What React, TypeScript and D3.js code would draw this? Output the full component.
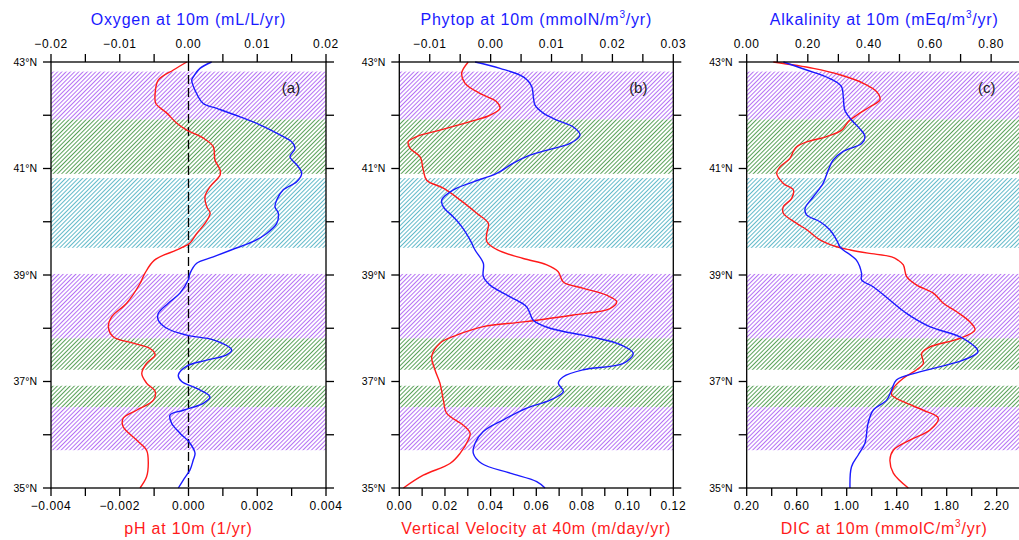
import React from 'react';
import * as d3 from 'd3';

type Pt = [number, number]; // [latitude, value]

// ---------- Data (latitude °N, value) ----------
const oxygen: Pt[] = [
  [43.0, 0.00337], [42.88, 0.00167], [42.72, 0.0007], [42.66, 0.00047], [42.47, 0.00095],
  [42.22, 0.00215], [42.13, 0.0041], [41.97, 0.00749], [41.82, 0.0104], [41.63, 0.01331],
  [41.5, 0.01501], [41.38, 0.01549], [41.22, 0.01476], [41.07, 0.01574], [40.91, 0.01647],
  [40.75, 0.01574], [40.6, 0.01379], [40.41, 0.01283], [40.28, 0.01258], [40.16, 0.01306],
  [39.97, 0.01283], [39.78, 0.01137], [39.63, 0.00943], [39.47, 0.0062], [39.34, 0.00361],
  [39.22, 0.00119], [39.03, 0.00022], [38.91, -0.00003], [38.66, -0.00124], [38.47, -0.00294],
  [38.28, -0.00439], [38.15, -0.00439], [38.0, -0.00317], [37.87, -0.00026], [37.78, 0.00361],
  [37.59, 0.00628], [37.5, 0.00556], [37.4, 0.00265], [37.29, -0.00026], [37.12, -0.00148],
  [37.0, -0.00099], [36.87, 0.00119], [36.71, 0.00313], [36.59, 0.00215], [36.46, -0.00076],
  [36.37, -0.00269], [36.21, -0.00244], [36.03, -0.00124], [35.84, 0.00022], [35.65, 0.00095],
  [35.53, 0.0007], [35.34, 0.00022], [35.15, -0.00076], [35.0, -0.00148],
];

const pH: Pt[] = [
  [43.0, -0.00005], [42.85, -0.00044], [42.66, -0.00088], [42.41, -0.00097], [42.22, -0.00095],
  [42.04, -0.00063], [41.85, -0.00034], [41.72, -0.00005], [41.57, 0.00043], [41.41, 0.00072],
  [41.16, 0.00077], [40.97, 0.00092], [40.88, 0.00092], [40.66, 0.00063], [40.47, 0.00048],
  [40.28, 0.00053], [40.16, 0.00063], [39.97, 0.00048], [39.78, 0.00024], [39.6, 0.00004],
  [39.56, -0.00005], [39.47, -0.00034], [39.28, -0.00099], [39.03, -0.00127], [38.84, -0.00141],
  [38.47, -0.0018], [38.22, -0.00223], [38.03, -0.00233], [37.84, -0.00219], [37.72, -0.00161],
  [37.62, -0.00112], [37.5, -0.00097], [37.34, -0.00122], [37.15, -0.00136], [36.97, -0.00122],
  [36.81, -0.00097], [36.65, -0.00102], [36.46, -0.00151], [36.31, -0.0019], [36.15, -0.0019],
  [35.9, -0.00151], [35.71, -0.00122], [35.46, -0.00117], [35.21, -0.00122], [35.0, -0.00141],
];

const phytop: Pt[] = [
  [43.0, -0.00256], [42.88, 0.00154], [42.72, 0.00537], [42.54, 0.00675], [42.35, 0.00701],
  [42.19, 0.00729], [42.04, 0.00865], [41.91, 0.01085], [41.78, 0.01358], [41.63, 0.01468],
  [41.47, 0.01304], [41.36, 0.00975], [41.25, 0.00647], [41.1, 0.00373], [40.91, 0.001],
  [40.75, -0.00284], [40.6, -0.00612], [40.41, -0.00803], [40.28, -0.00777], [40.09, -0.00612],
  [39.91, -0.00475], [39.66, -0.00338], [39.47, -0.00256], [39.22, -0.0012], [38.97, -0.0012],
  [38.81, -0.0001], [38.59, 0.00319], [38.4, 0.00593], [38.15, 0.00701], [38.0, 0.00975],
  [37.84, 0.01647], [37.69, 0.02135], [37.53, 0.02343], [37.34, 0.02179], [37.22, 0.01522],
  [37.09, 0.01194], [36.97, 0.01112], [36.81, 0.01194], [36.65, 0.00975], [36.5, 0.00593],
  [36.28, 0.00209], [36.06, -0.0012], [35.84, -0.00256], [35.65, -0.00284], [35.46, -0.00146],
  [35.28, 0.00319], [35.12, 0.00757], [35.0, 0.00893],
];

const vertVel: Pt[] = [
  [43.0, 0.0302], [42.79, 0.0273], [42.6, 0.0288], [42.41, 0.0353], [42.25, 0.0427],
  [42.13, 0.0441], [42.0, 0.0397], [41.88, 0.031], [41.72, 0.0178], [41.6, 0.0076],
  [41.5, 0.0039], [41.38, 0.0047], [41.22, 0.0091], [40.97, 0.0105], [40.78, 0.012],
  [40.63, 0.0193], [40.41, 0.0266], [40.16, 0.0339], [39.97, 0.039], [39.78, 0.0383],
  [39.63, 0.0383], [39.47, 0.043], [39.31, 0.0543], [39.19, 0.0646], [39.06, 0.0696],
  [38.87, 0.0718], [38.75, 0.0806], [38.62, 0.0908], [38.5, 0.0952], [38.37, 0.0923],
  [38.25, 0.0762], [38.12, 0.0543], [38.03, 0.0368], [37.87, 0.0251], [37.72, 0.0178],
  [37.47, 0.0142], [37.22, 0.0156], [36.97, 0.0178], [36.65, 0.0193], [36.4, 0.0208],
  [36.18, 0.028], [36.03, 0.031], [35.9, 0.0302], [35.65, 0.0266], [35.46, 0.0222],
  [35.24, 0.0105], [35.0, 0.0018],
];

const alkalinity: Pt[] = [
  [43.0, 0.12], [42.85, 0.196], [42.69, 0.272], [42.54, 0.31], [42.35, 0.316],
  [42.1, 0.321], [41.91, 0.343], [41.75, 0.37], [41.6, 0.387], [41.47, 0.376],
  [41.32, 0.316], [41.16, 0.283], [40.97, 0.267], [40.72, 0.25], [40.47, 0.218],
  [40.25, 0.191], [40.13, 0.196], [40.0, 0.24], [39.85, 0.272], [39.66, 0.294],
  [39.53, 0.305], [39.47, 0.316], [39.28, 0.359], [39.03, 0.376], [38.91, 0.376],
  [38.78, 0.414], [38.53, 0.468], [38.28, 0.523], [38.03, 0.599], [37.81, 0.708],
  [37.56, 0.757], [37.4, 0.708], [37.18, 0.566], [37.03, 0.49], [36.84, 0.474],
  [36.65, 0.458], [36.46, 0.414], [36.21, 0.397], [35.84, 0.387], [35.62, 0.365],
  [35.4, 0.343], [35.0, 0.338],
];

const dic: Pt[] = [
  [43.0, 0.413], [42.88, 0.733], [42.76, 0.946], [42.6, 1.133], [42.44, 1.24],
  [42.29, 1.266], [42.16, 1.186], [42.0, 1.08], [41.88, 1.013], [41.72, 0.96],
  [41.6, 0.84], [41.5, 0.68], [41.41, 0.6], [41.32, 0.573], [41.19, 0.546],
  [41.03, 0.466], [40.91, 0.44], [40.72, 0.493], [40.6, 0.573], [40.44, 0.56],
  [40.28, 0.493], [40.16, 0.493], [39.97, 0.6], [39.85, 0.68], [39.66, 0.786],
  [39.53, 0.92], [39.47, 1.03], [39.41, 1.17], [39.34, 1.36], [39.28, 1.41],
  [39.19, 1.453], [38.97, 1.48], [38.81, 1.56], [38.66, 1.693], [38.47, 1.773],
  [38.31, 1.88], [38.12, 1.986], [37.97, 2.026], [37.81, 1.906], [37.65, 1.666],
  [37.53, 1.6], [37.34, 1.613], [37.22, 1.56], [37.06, 1.453], [36.87, 1.373],
  [36.75, 1.36], [36.62, 1.453], [36.46, 1.613], [36.31, 1.733], [36.09, 1.666],
  [35.9, 1.506], [35.71, 1.373], [35.53, 1.346], [35.28, 1.373], [35.0, 1.493],
];

// Latitude axis
const latTicks = [35, 36, 37, 38, 39, 40, 41, 42, 43];
const latLabels = [35, 37, 39, 41, 43];

// Hatched latitude bands
const bandLo = [41.92, 40.9, 39.51, 37.81, 37.22, 36.52, 35.71];
const bandHi = [42.82, 41.92, 40.82, 39.02, 37.81, 36.92, 36.52];
const bandKind = ['purple', 'green', 'cyan', 'purple', 'green', 'green', 'purple'];

// Axis ticks and labels
const oxyTicks = [-0.02, -0.015, -0.01, -0.005, 0, 0.005, 0.01, 0.015, 0.02];
const oxyLabels = [-0.02, -0.01, 0, 0.01, 0.02];
const phTicks = [-0.004, -0.003, -0.002, -0.001, 0, 0.001, 0.002, 0.003, 0.004];
const phLabels = [-0.004, -0.002, 0, 0.002, 0.004];
const phyTicks = [-0.015, -0.01, -0.005, 0, 0.005, 0.01, 0.015, 0.02, 0.025, 0.03];
const phyLabels = [-0.01, 0, 0.01, 0.02, 0.03];
const wTicks = [0, 0.01, 0.02, 0.03, 0.04, 0.05, 0.06, 0.07, 0.08, 0.09, 0.1, 0.11, 0.12];
const wLabels = [0, 0.02, 0.04, 0.06, 0.08, 0.1, 0.12];
const alkTicks = [0, 0.1, 0.2, 0.3, 0.4, 0.5, 0.6, 0.7, 0.8, 0.9];
const alkLabels = [0, 0.2, 0.4, 0.6, 0.8];
const dicTicks = [0.2, 0.4, 0.6, 0.8, 1.0, 1.2, 1.4, 1.6, 1.8, 2.0, 2.2, 2.4];
const dicLabels = [0.2, 0.6, 1.0, 1.4, 1.8, 2.2];

type Seg = { t: string; sup?: boolean };

// ---------- Styling / layout ----------
const FONT = '"Liberation Sans", Arial, Helvetica, sans-serif';
const Y_TOP = 62;
const Y_BOT = 488;
const TICK = 8;
const HATCH: Record<string, string> = { purple: '#a24cf2', green: '#2f8a2f', cyan: '#3aa8bd' };
const RED = '#ff1a1a';
const BLUE = '#1a1aff';

interface Spec {
  left: number;
  right: number;
  topDomain: [number, number];
  bottomDomain: [number, number];
  topTicks: number[];
  topLabels: number[];
  topFmt: string;
  bottomTicks: number[];
  bottomLabels: number[];
  bottomFmt: string;
  topSeries: Pt[];
  bottomSeries: Pt[];
  topTitle: Seg[];
  bottomTitle: Seg[];
  tag: string;
  zeroLine?: boolean;
}

const specs: Spec[] = [
  {
    left: 51, right: 326,
    topDomain: [-0.02, 0.02], bottomDomain: [-0.004, 0.004],
    topTicks: oxyTicks, topLabels: oxyLabels, topFmt: '.2f',
    bottomTicks: phTicks, bottomLabels: phLabels, bottomFmt: '.3f',
    topSeries: oxygen, bottomSeries: pH,
    topTitle: [{ t: 'Oxygen at 10m (mL/L/yr)' }],
    bottomTitle: [{ t: 'pH at 10m (1/yr)' }],
    tag: '(a)', zeroLine: true,
  },
  {
    left: 399.3, right: 673.3,
    topDomain: [-0.015, 0.03], bottomDomain: [0, 0.12],
    topTicks: phyTicks, topLabels: phyLabels, topFmt: '.2f',
    bottomTicks: wTicks, bottomLabels: wLabels, bottomFmt: '.2f',
    topSeries: phytop, bottomSeries: vertVel,
    topTitle: [{ t: 'Phytop at 10m (mmolN/m' }, { t: '3', sup: true }, { t: '/yr)' }],
    bottomTitle: [{ t: 'Vertical Velocity at 40m (m/day/yr)' }],
    tag: '(b)',
  },
  {
    left: 746.7, right: 1021.7,
    topDomain: [0, 0.9], bottomDomain: [0.2, 2.4],
    topTicks: alkTicks, topLabels: alkLabels, topFmt: '.2f',
    bottomTicks: dicTicks, bottomLabels: dicLabels, bottomFmt: '.2f',
    topSeries: alkalinity, bottomSeries: dic,
    topTitle: [{ t: 'Alkalinity at 10m (mEq/m' }, { t: '3', sup: true }, { t: '/yr)' }],
    bottomTitle: [{ t: 'DIC at 10m (mmolC/m' }, { t: '3', sup: true }, { t: '/yr)' }],
    tag: '(c)',
  },
];

function Title({ segs, x, y, color }: { segs: Seg[]; x: number; y: number; color: string }) {
  const base = 16;
  const out: React.ReactNode[] = [];
  let shifted = false;
  segs.forEach((s, i) => {
    if (s.sup) {
      out.push(<tspan key={i} fontSize={10} dy={-7}>{s.t}</tspan>);
      shifted = true;
    } else if (shifted) {
      out.push(<tspan key={i} fontSize={base} dy={7}>{s.t}</tspan>);
      shifted = false;
    } else {
      out.push(<tspan key={i}>{s.t}</tspan>);
    }
  });
  return (
    <text x={x} y={y} textAnchor="middle" fill={color} fontSize={base} fontFamily={FONT} letterSpacing={0.8}>
      {out}
    </text>
  );
}

function Panel({ spec }: { spec: Spec }) {
  const xT = d3.scaleLinear().domain(spec.topDomain).range([spec.left, spec.right]);
  const xB = d3.scaleLinear().domain(spec.bottomDomain).range([spec.left, spec.right]);
  const y = d3.scaleLinear().domain([35, 43]).range([Y_BOT, Y_TOP]);
  const curve = d3.curveCatmullRom.alpha(0.5);
  const lineT = d3.line<Pt>().x((d) => xT(d[1])).y((d) => y(d[0])).curve(curve);
  const lineB = d3.line<Pt>().x((d) => xB(d[1])).y((d) => y(d[0])).curve(curve);
  const fT = d3.format(spec.topFmt);
  const fB = d3.format(spec.bottomFmt);
  const cx = (spec.left + spec.right) / 2;
  const w = spec.right - spec.left;

  return (
    <g>
      {bandLo.map((lo, i) => (
        <rect
          key={'b' + i}
          x={spec.left}
          width={w}
          y={y(bandHi[i])}
          height={y(lo) - y(bandHi[i])}
          fill={`url(#hatch-${bandKind[i]})`}
        />
      ))}
      {spec.zeroLine && (
        <line x1={xT(0)} x2={xT(0)} y1={Y_TOP} y2={Y_BOT} stroke="#000" strokeWidth={1.3} strokeDasharray="9,4" />
      )}
      <path d={lineB(spec.bottomSeries) || ''} fill="none" stroke={RED} strokeWidth={1.4} />
      <path d={lineT(spec.topSeries) || ''} fill="none" stroke={BLUE} strokeWidth={1.4} />

      {/* frame */}
      <rect x={spec.left} y={Y_TOP} width={w} height={Y_BOT - Y_TOP} fill="none" stroke="#000" strokeWidth={1.3} />

      {/* latitude ticks */}
      {latTicks.map((t) => (
        <g key={'lt' + t}>
          <line x1={spec.left - TICK} x2={spec.left} y1={y(t)} y2={y(t)} stroke="#000" strokeWidth={1.3} />
          <line x1={spec.right} x2={spec.right + TICK} y1={y(t)} y2={y(t)} stroke="#000" strokeWidth={1.3} />
        </g>
      ))}
      {latLabels.map((t) => (
        <text
          key={'ll' + t}
          x={spec.left - 14}
          y={y(t) + 3.8}
          textAnchor="end"
          fontSize={10.5}
          fontFamily={FONT}
          fill="#000"
        >
          {`${t}°N`}
        </text>
      ))}

      {/* top axis */}
      {spec.topTicks.map((t, i) => (
        <line key={'tt' + i} x1={xT(t)} x2={xT(t)} y1={Y_TOP - TICK} y2={Y_TOP} stroke="#000" strokeWidth={1.3} />
      ))}
      {spec.topLabels.map((t, i) => (
        <text key={'tl' + i} x={xT(t)} y={47.5} textAnchor="middle" fontSize={12} fontFamily={FONT} letterSpacing={0.6} fill="#000">
          {fT(t)}
        </text>
      ))}

      {/* bottom axis */}
      {spec.bottomTicks.map((t, i) => (
        <line key={'bt' + i} x1={xB(t)} x2={xB(t)} y1={Y_BOT} y2={Y_BOT + TICK} stroke="#000" strokeWidth={1.3} />
      ))}
      {spec.bottomLabels.map((t, i) => (
        <text key={'bl' + i} x={xB(t)} y={509.5} textAnchor="middle" fontSize={12} fontFamily={FONT} letterSpacing={0.6} fill="#000">
          {fB(t)}
        </text>
      ))}

      <Title segs={spec.topTitle} x={cx} y={24.5} color={BLUE} />
      <Title segs={spec.bottomTitle} x={cx} y={534} color={RED} />

      <text x={spec.right - 35} y={93} textAnchor="middle" fontSize={15} fontFamily={FONT} fill="#222">
        {spec.tag}
      </text>
    </g>
  );
}

export default function App() {
  return (
    <svg
      width={1019}
      height={540}
      viewBox="0 0 1019 540"
      style={{ position: 'absolute', left: 0, top: 0, background: '#fff' }}
    >
      <defs>
        {Object.keys(HATCH).map((k) => (
          <pattern
            key={k}
            id={`hatch-${k}`}
            width={3}
            height={3}
            patternUnits="userSpaceOnUse"
            patternTransform="rotate(45)"
          >
            <line x1={1.5} y1={0} x2={1.5} y2={3} stroke={HATCH[k]} strokeWidth={0.8} />
          </pattern>
        ))}
      </defs>
      <rect x={0} y={0} width={1019} height={540} fill="#fff" />
      {specs.map((s, i) => (
        <Panel key={i} spec={s} />
      ))}
    </svg>
  );
}
